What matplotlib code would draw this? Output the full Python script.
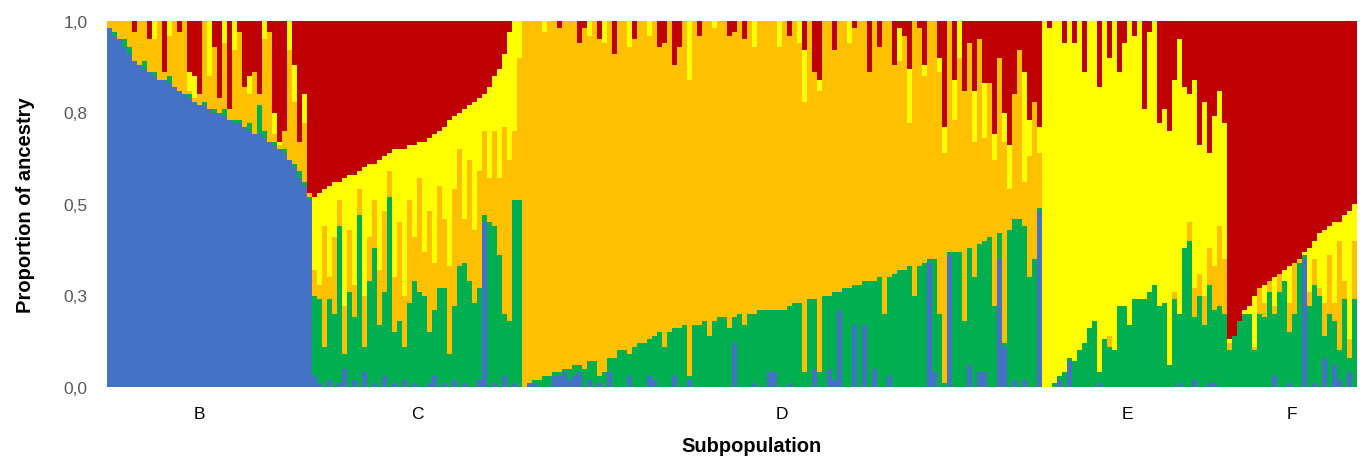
import numpy as np
import matplotlib.pyplot as plt

plt.rcParams['font.family'] = ['Liberation Sans', 'DejaVu Sans']

# ancestry proportions (%) per individual
# order of stacking (bottom -> top): blue, green, orange, yellow, red
# orange is the rest of each bar

B_blue = [98, 96, 95, 93, 91, 89, 88, 87, 86, 85, 84, 84, 83, 82, 81, 80, 79, 78, 77, 77, 76,
          75, 75, 74, 73, 72, 72, 71, 70, 69, 69, 68, 67, 66, 65, 64, 62, 60, 57, 55, 51]
B_green = [0, 1, 0, 2, 2, 0, 0, 2, 0, 1, 0, 0, 2, 0, 0, 0, 1, 0, 0, 1, 0,
           1, 0, 2, 0, 1, 1, 0, 2, 0, 8, 2, 0, 1, 0, 1, 0, 1, 2, 1, 1]
B_yellow = [0, 0, 0, 0, 0, 0, 0, 0, 0, 5, 0, 0, 4, 0, 0, 0, 5, 6, 0, 0, 15,
            0, 0, 6, 0, 8, 0, 0, 5, 0, 0, 5, 0, 6, 1, 0, 8, 10, 0, 8, 0]
B_red = [0, 0, 0, 0, 0, 3, 0, 0, 5, 0, 0, 14, 0, 0, 3, 0, 14, 15, 20, 0, 0,
         7, 21, 0, 24, 0, 3, 18, 15, 14, 20, 0, 3, 25, 33, 30, 0, 12, 33, 20, 47]

C_blue = [3, 1, 0, 2, 0, 1, 5, 0, 2, 0, 4, 0, 1, 0, 3, 0, 1, 0, 2, 0, 1,
          0, 0, 1, 3, 0, 1, 0, 2, 0, 1, 0, 0, 2, 45, 0, 1, 0, 3, 0, 1, 0]
C_green = [22, 23, 11, 22, 20, 43, 4, 26, 17, 47, 7, 29, 37, 17, 23, 52, 14, 18, 9, 23, 28,
           26, 25, 14, 18, 27, 26, 9, 20, 33, 33, 29, 23, 25, 2, 45, 43, 36, 17, 18, 50, 51]
C_yellow = [20, 25, 10, 25, 15, 5, 35, 15, 30, 5, 35, 20, 10, 30, 15, 5, 35, 20, 40, 15, 25,
            10, 30, 20, 35, 15, 25, 40, 20, 10, 30, 15, 35, 20, 10, 25, 15, 30, 20, 35, 30, 10]
C_red = [48, 47, 46, 45, 44, 44, 43, 42, 42, 41, 40, 39, 39, 38, 37, 36, 35, 35, 35, 34, 34,
         33, 33, 32, 31, 30, 29, 27, 26, 25, 24, 23, 22, 21, 20, 18, 15, 13, 9, 3, 0, 0]

D_blue = [0, 1, 1, 0, 0, 0, 3, 3, 4, 2, 3, 4, 0, 2, 0, 1, 0, 4, 0, 0,
          0, 3, 0, 0, 0, 3, 2, 0, 0, 0, 3, 0, 0, 2, 0, 0, 0, 0, 0, 0,
          0, 0, 12, 0, 0, 0, 1, 0, 0, 4, 4, 0, 0, 1, 0, 0, 0, 0, 5, 0,
          0, 5, 2, 21, 0, 0, 17, 0, 17, 0, 5, 0, 0, 3, 0, 0, 0, 0, 0, 0,
          0, 34, 4, 0, 0, 36, 0, 0, 0, 6, 0, 4, 4, 0, 0, 35, 11, 0, 2, 0,
          2, 0, 0, 48]
D_green = [0, 0, 1, 2, 3, 3, 1, 1, 1, 3, 3, 2, 5, 5, 7, 2, 4, 4, 8, 10,
           10, 6, 11, 12, 12, 10, 12, 15, 11, 15, 13, 16, 17, 1, 17, 17, 18, 14, 18, 19,
           19, 16, 7, 20, 17, 20, 19, 21, 21, 17, 17, 21, 21, 21, 23, 23, 4, 24, 19, 4,
           25, 20, 24, 5, 27, 27, 11, 28, 12, 29, 24, 30, 20, 27, 31, 32, 32, 33, 25, 33,
           34, 1, 31, 20, 1, 1, 37, 37, 18, 32, 30, 35, 36, 41, 22, 7, 1, 43, 44, 46,
           42, 30, 35, 1]
D_yellow = [0, 0, 0, 0, 3, 0, 0, 0, 0, 0, 0, 0, 0, 4, 0, 0, 6, 0, 0, 0,
            0, 7, 0, 0, 0, 4, 0, 0, 0, 0, 0, 0, 0, 16, 0, 0, 0, 0, 2, 0,
            0, 0, 0, 0, 0, 0, 7, 0, 0, 0, 0, 7, 0, 0, 0, 6, 14, 0, 0, 3,
            0, 0, 0, 0, 0, 6, 0, 0, 0, 0, 0, 0, 0, 0, 0, 9, 0, 15, 0, 0,
            3, 0, 0, 4, 7, 0, 11, 10, 0, 0, 14, 0, 15, 0, 7, 0, 8, 12, 0, 0,
            30, 10, 0, 7]
D_red = [0, 0, 0, 0, 0, 0, 0, 2, 0, 0, 0, 6, 2, 0, 0, 5, 0, 0, 9, 0,
         0, 0, 5, 0, 0, 0, 0, 7, 6, 0, 12, 7, 0, 0, 0, 4, 0, 0, 0, 0,
         0, 4, 3, 0, 5, 0, 0, 0, 0, 0, 0, 0, 0, 4, 0, 0, 8, 0, 14, 16,
         0, 0, 8, 0, 0, 0, 2, 0, 0, 14, 0, 7, 0, 0, 12, 2, 4, 13, 0, 2,
         12, 0, 0, 10, 29, 0, 16, 0, 19, 6, 19, 5, 17, 17, 31, 10, 25, 34, 20, 8,
         14, 27, 22, 29]

E_blue = [0, 0, 0, 2, 0, 7, 0, 0, 0, 0, 0, 1, 0, 0, 0, 0, 0, 0, 0,
          0, 0, 0, 0, 0, 0, 0, 0, 1, 0, 0, 2, 0, 0, 1, 1, 0, 0]
E_green = [0, 0, 1, 1, 4, 1, 7, 10, 12, 16, 18, 3, 13, 11, 10, 22, 22, 17, 24,
           24, 24, 26, 28, 22, 23, 6, 24, 19, 38, 40, 17, 25, 17, 27, 20, 22, 20]
E_yellow = [100, 98, 99, 97, 90, 92, 87, 90, 74, 84, 82, 78, 87, 76, 90, 64, 72, 83, 72,
            76, 52, 71, 72, 50, 53, 64, 58, 75, 44, 35, 57, 35, 53, 26, 41, 37, 37]
E_red = [0, 2, 0, 0, 6, 0, 6, 0, 14, 0, 0, 18, 0, 10, 0, 14, 6, 0, 4,
         0, 24, 3, 0, 28, 24, 30, 16, 5, 18, 20, 16, 34, 22, 36, 26, 19, 28]

F_blue = [0, 0, 0, 0, 0, 0, 0, 0, 0, 3, 0, 0, 1, 0, 0, 35, 0, 1, 0, 8, 0, 6, 2, 0, 4, 0]
F_green = [10, 14, 18, 20, 20, 10, 20, 19, 26, 17, 26, 29, 14, 20, 34, 1, 22, 27, 25, 6,
           20, 12, 8, 24, 4, 24]
F_yellow = [1, 0, 0, 1, 2, 14, 0, 5, 0, 8, 0, 3, 10, 0, 0, 1, 12, 5, 15, 20, 8, 22, 5, 18, 35, 10]
F_red = [87, 86, 82, 79, 78, 75, 73, 72, 71, 70, 69, 68, 67, 66, 65, 63, 62, 60, 58, 57,
         56, 55, 55, 53, 52, 50]

groups = ['B', 'C', 'D', 'E', 'F']
ytick_vals = [0, 0.25, 0.5, 0.75, 1.0]
ytick_labels = ['0,0', '0,3', '0,5', '0,8', '1,0']

blue = np.concatenate([B_blue, C_blue, D_blue, E_blue, F_blue]) / 100.0
green = np.concatenate([B_green, C_green, D_green, E_green, F_green]) / 100.0
yellow = np.concatenate([B_yellow, C_yellow, D_yellow, E_yellow, F_yellow]) / 100.0
red = np.concatenate([B_red, C_red, D_red, E_red, F_red]) / 100.0
orange = np.clip(1.0 - blue - green - yellow - red, 0, None)

sizes = [len(B_blue), len(C_blue), len(D_blue), len(E_blue), len(F_blue)]
n = int(sum(sizes))
x = np.arange(n)

fig = plt.figure(figsize=(13.63, 4.64), dpi=100)
ax = fig.add_axes([107 / 1363, 1 - 388 / 464, 1250 / 1363, 366 / 464])

colors = ['#4472C4', '#00B050', '#FFC000', '#FFFF00', '#C00000']
bottom = np.zeros(n)
for comp, c in zip([blue, green, orange, yellow, red], colors):
    ax.bar(x, comp, bottom=bottom, width=1.0, color=c, linewidth=0)
    bottom = bottom + comp

ax.set_xlim(-0.5, n - 0.5)
ax.set_ylim(0, 1)
for s in ax.spines.values():
    s.set_visible(False)

ax.set_yticks(ytick_vals)
ax.set_yticklabels(ytick_labels, fontsize=12.5, color='#595959')
ax.tick_params(axis='y', length=0, pad=14)

# group labels at the middle of each subpopulation
edges = np.cumsum([0] + sizes)
centers = (edges[:-1] + edges[1:]) / 2 - 0.5
centers[0] -= 2
centers[3] -= 1.5
ax.set_xticks(centers)
ax.set_xticklabels(groups, fontsize=12.5, color='black')
ax.tick_params(axis='x', length=0, pad=14)

ax.set_ylabel('Proportion of ancestry', fontsize=14.5, fontweight='bold')
ax.yaxis.set_label_coords(-0.058, 0.5)
ax.set_xlabel('Subpopulation', fontsize=14.5, fontweight='bold')
ax.xaxis.set_label_coords(0.516, -0.135)

fig.savefig('out.png', dpi=100)
